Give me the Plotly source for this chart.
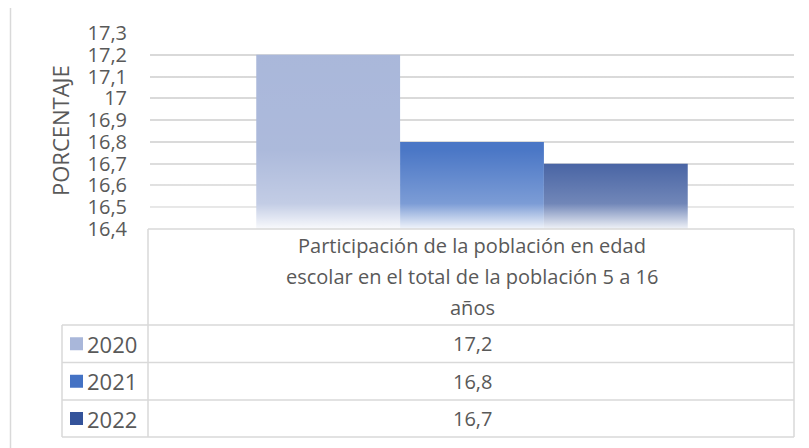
import plotly.graph_objects as go

# data
CATEGORY_LINES = ["Participación de la población en edad",
                  "escolar en el total de la población 5 a 16",
                  "años"]
YEARS = ["2020", "2021", "2022"]
VALUES = [17.2, 16.8, 16.7]
COLORS = ["#A9B7DA", "#4472C4", "#34539A"]
Y_TITLE = "PORCENTAJE"

TEXT = "#595959"
GRID = "#D9D9D9"
FONT = "Open Sans"

# page body adds an 8px margin, so work in screen pixels and shift
OFF = 8
L, R, T, B = 150, 794, 33, 229   # plot area on screen
W, H = R - L, B - T


def px_x(px):
    return (px - L) / W


def px_y(py):
    return (B - py) / H


def fmt(v):
    return ("%g" % v).replace(".", ",")


category = "<br>".join(CATEGORY_LINES)

fig = go.Figure()
for year, val, col in zip(YEARS, VALUES, COLORS):
    fig.add_trace(go.Bar(
        x=[category], y=[val], name=year,
        marker=dict(color=col, line=dict(width=0)),
        showlegend=False,
    ))

fig.update_layout(
    width=809, height=448,
    margin=dict(l=L - OFF, r=809 - (R - OFF), t=T - OFF, b=448 - (B - OFF)),
    paper_bgcolor="white", plot_bgcolor="white",
    separators=",.",
    barmode="group", bargap=0.33, bargroupgap=0,
    font=dict(family=FONT, color=TEXT, size=20),
    xaxis=dict(showticklabels=False, showgrid=False, zeroline=False,
               showline=False, ticks=""),
    yaxis=dict(range=[16.4, 17.3], dtick=0.1, tick0=16.4,
               showgrid=True, gridcolor=GRID, gridwidth=1.5,
               zeroline=False, showline=False, ticks="",
               ticklabelstandoff=22,
               tickfont=dict(family=FONT, size=20, color=TEXT)),
)

# white fade towards the bottom of the bars
svg = ("data:image/svg+xml;utf8,<svg xmlns='http://www.w3.org/2000/svg' "
       "width='10' height='100' preserveAspectRatio='none'>"
       "<defs><linearGradient id='g' x1='0' y1='0' x2='0' y2='1'>"
       "<stop offset='0' stop-color='white' stop-opacity='0'/>"
       "<stop offset='0.6' stop-color='white' stop-opacity='0.04'/>"
       "<stop offset='0.87' stop-color='white' stop-opacity='0.3'/>"
       "<stop offset='1' stop-color='white' stop-opacity='0.93'/>"
       "</linearGradient></defs>"
       "<rect width='10' height='100' fill='url(%23g)'/></svg>")
fig.add_layout_image(dict(source=svg, xref="paper", yref="paper",
                          x=0, y=1, sizex=1, sizey=1, sizing="stretch",
                          xanchor="left", yanchor="top", layer="above"))


def note(text, x, y, xanchor="center", **kw):
    fig.add_annotation(text=text, xref="paper", yref="paper",
                       x=px_x(x), y=px_y(y), xanchor=xanchor, yanchor="middle",
                       showarrow=False, **kw)


# y title
note(Y_TITLE, 60, 131, textangle=-90, font=dict(size=22, color=TEXT))

# outer chart border
fig.add_shape(type="rect", xref="paper", yref="paper",
              x0=px_x(10.5), y0=px_y(5.5), x1=px_x(807), y1=px_y(470),
              line=dict(color=GRID, width=1.5), layer="below")

# data table grid
row_lines = [325, 362.5, 400, 437]
line = dict(color=GRID, width=1.5)
fig.add_shape(type="line", xref="paper", yref="paper",
              x0=px_x(148), x1=px_x(R), y0=px_y(229), y1=px_y(229), line=line)
for yy in row_lines:
    fig.add_shape(type="line", xref="paper", yref="paper",
                  x0=px_x(62), x1=px_x(R), y0=px_y(yy), y1=px_y(yy), line=line)
fig.add_shape(type="line", xref="paper", yref="paper",
              x0=px_x(62), x1=px_x(62), y0=px_y(325), y1=px_y(437), line=line)
for xx in (148, R):
    fig.add_shape(type="line", xref="paper", yref="paper",
                  x0=px_x(xx), x1=px_x(xx), y0=px_y(229), y1=px_y(437), line=line)

# header text
for i, txt in enumerate(CATEGORY_LINES):
    note(txt, (L + R) / 2, 245 + 31 * i, font=dict(size=20, color=TEXT))

# rows: legend key, year, value
for i, (year, val, col) in enumerate(zip(YEARS, VALUES, COLORS)):
    yc = (row_lines[i] + row_lines[i + 1]) / 2
    fig.add_shape(type="rect", xref="paper", yref="paper",
                  x0=px_x(70), x1=px_x(83), y0=px_y(yc - 6.5), y1=px_y(yc + 6.5),
                  line=dict(width=0), fillcolor=col)
    note(year, 85, yc, xanchor="left", font=dict(size=22, color=TEXT))
    note(fmt(val), (L + R) / 2, yc, font=dict(size=20, color=TEXT))

fig.write_html("out.html")
